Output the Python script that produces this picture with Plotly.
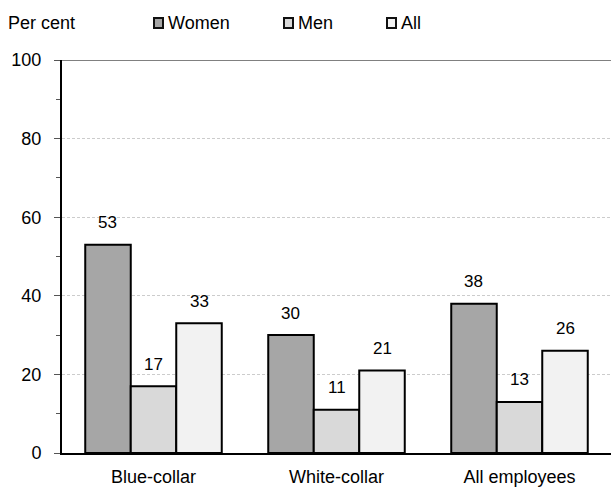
import plotly.graph_objects as go

# Share of employees (per cent) by occupational group and sex
categories = ["Blue-collar", "White-collar", "All employees"]
series_names = ["Women", "Men", "All"]
women = [53, 30, 38]
men = [17, 11, 13]
all_staff = [33, 21, 26]
y_ticks = [0, 20, 40, 60, 80, 100]

series_values = [women, men, all_staff]
colors = ["#a6a6a6", "#d9d9d9", "#f2f2f2"]

W, H = 611, 488
M_L, M_R, M_T, M_B = 62, 0, 60, 35
BARGAP = 0.254
FONT = "Liberation Sans, Arial, sans-serif"

fig = go.Figure()
for name, vals, col in zip(series_names, series_values, colors):
    fig.add_trace(go.Bar(
        x=categories, y=vals, name=name,
        marker=dict(color=col, line=dict(color="#000000", width=2)),
        showlegend=False,
    ))

# value labels above each bar
bar_w = (1 - BARGAP) / len(series_names)
annotations = []
for i, vals in enumerate(series_values):
    for j, v in enumerate(vals):
        annotations.append(dict(
            x=j + (i - (len(series_names) - 1) / 2) * bar_w, y=v,
            xref="x", yref="y", text=str(v), showarrow=False,
            yanchor="middle", yshift=22,
            font=dict(family=FONT, size=17, color="#000000"),
        ))

# convert pixel positions in the header band to paper coordinates
plot_w = W - M_L - M_R
plot_h = H - M_T - M_B


def px_x(px):
    return (px - M_L) / plot_w


def px_y(py):
    return (H - M_B - py) / plot_h


annotations.append(dict(
    x=px_x(6), y=px_y(23), xref="paper", yref="paper", text="Per cent",
    showarrow=False, xanchor="left", yanchor="middle",
    font=dict(family=FONT, size=18, color="#000000"),
))

shapes = []
legend_x = [154, 284, 387]
for lx, name, col in zip(legend_x, series_names, colors):
    shapes.append(dict(
        type="rect", xref="paper", yref="paper",
        x0=px_x(lx), x1=px_x(lx + 9), y0=px_y(28), y1=px_y(18),
        fillcolor=col, line=dict(color="#111111", width=2),
    ))
    annotations.append(dict(
        x=px_x(lx + 12), y=px_y(23), xref="paper", yref="paper", text=name,
        showarrow=False, xanchor="left", yanchor="middle",
        font=dict(family=FONT, size=18, color="#000000"),
    ))

# grey rule along the top of the plot area
shapes.append(dict(
    type="line", xref="paper", yref="y", x0=0, x1=1, y0=100, y1=100,
    line=dict(color="#808080", width=2),
))

fig.update_layout(
    width=W, height=H,
    margin=dict(l=M_L, r=M_R, t=M_T, b=M_B, pad=0),
    paper_bgcolor="#ffffff", plot_bgcolor="#ffffff",
    barmode="group", bargap=BARGAP, bargroupgap=0,
    font=dict(family=FONT, size=18, color="#000000"),
    annotations=annotations, shapes=shapes,
)
fig.update_xaxes(
    showline=True, linecolor="#000000", linewidth=2,
    ticks="", showgrid=False, ticklabelstandoff=6,
    tickfont=dict(family=FONT, size=18, color="#000000"),
)
fig.update_yaxes(
    range=[0, 100], tickvals=y_ticks, ticktext=[str(t) for t in y_ticks],
    showline=True, linecolor="#000000", linewidth=2,
    ticks="outside", ticklen=6, tickwidth=1, tickcolor="#555555",
    ticklabelstandoff=9,
    minor=dict(tickvals=[10, 30, 50, 70, 90], ticks="outside", ticklen=4,
               tickwidth=1, tickcolor="#555555", showgrid=False),
    showgrid=True, gridcolor="#cccccc", gridwidth=1, griddash="3px,2px",
    zeroline=False,
    tickfont=dict(family=FONT, size=18, color="#000000"),
)

fig.write_html("out.html")
